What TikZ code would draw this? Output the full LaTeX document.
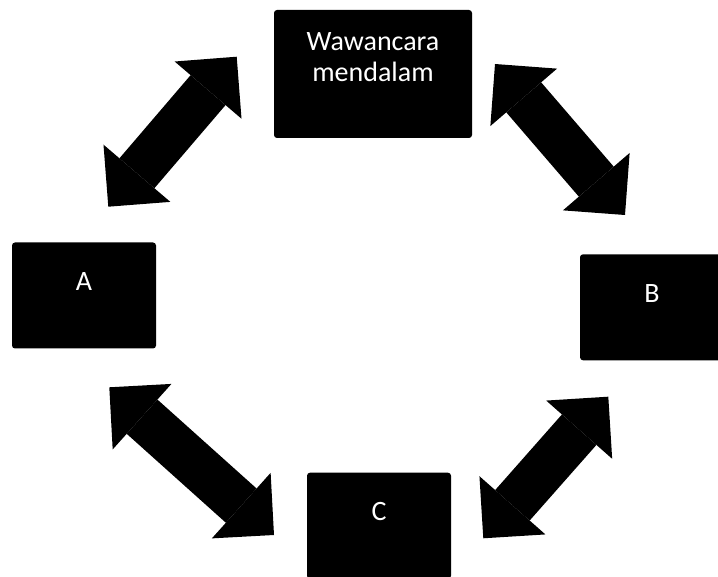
\documentclass[tikz,border=0pt]{standalone}
\usepackage{fontspec}
\setmainfont{Carlito}
\usetikzlibrary{arrows.meta}

\begin{document}
\begin{tikzpicture}[x=1pt, y=-1pt, font=\fontsize{28}{30.7}\selectfont,
   >={Triangle[length=44pt 0 0, width=88pt 0 0, line width=0pt 0 0]},
   link/.style={<->, line width=46pt, preaction={draw, arrows=-, shorten <=30pt, shorten >=30pt}}]
 \clip (0,0) rectangle (718,577);
 \begin{scope}[every node/.style={fill, rounded corners=3pt, text=white, inner sep=0pt,
     minimum width=144pt, text height=48pt, text depth=58pt}]
   \node (w) [minimum width=198pt, text height=71.7pt, text depth=56.3pt, align=center] at (373,74) {Wawancara\\mendalam};
   \node (a) at (84,295.5) {A};
   \node (b) at (652,307.3) {B};
   \node (c) at (379,525.7) {C};
 \end{scope}
 \coordinate (aw) at (108.3,206.7);
 \coordinate (wa) at (236.7,56.7);
 \coordinate (wb) at (495,64);
 \coordinate (bw) at (625,215);
 \coordinate (ac) at (109.3,387.3);
 \coordinate (ca) at (274,535);
 \coordinate (cb) at (483.3,538.3);
 \coordinate (bc) at (608.3,396.7);
 \draw [link] (aw) -- (wa);
 \draw [link] (wb) -- (bw);
 \draw [link] (ac) -- (ca);
 \draw [link] (cb) -- (bc);
\end{tikzpicture}
\end{document}
